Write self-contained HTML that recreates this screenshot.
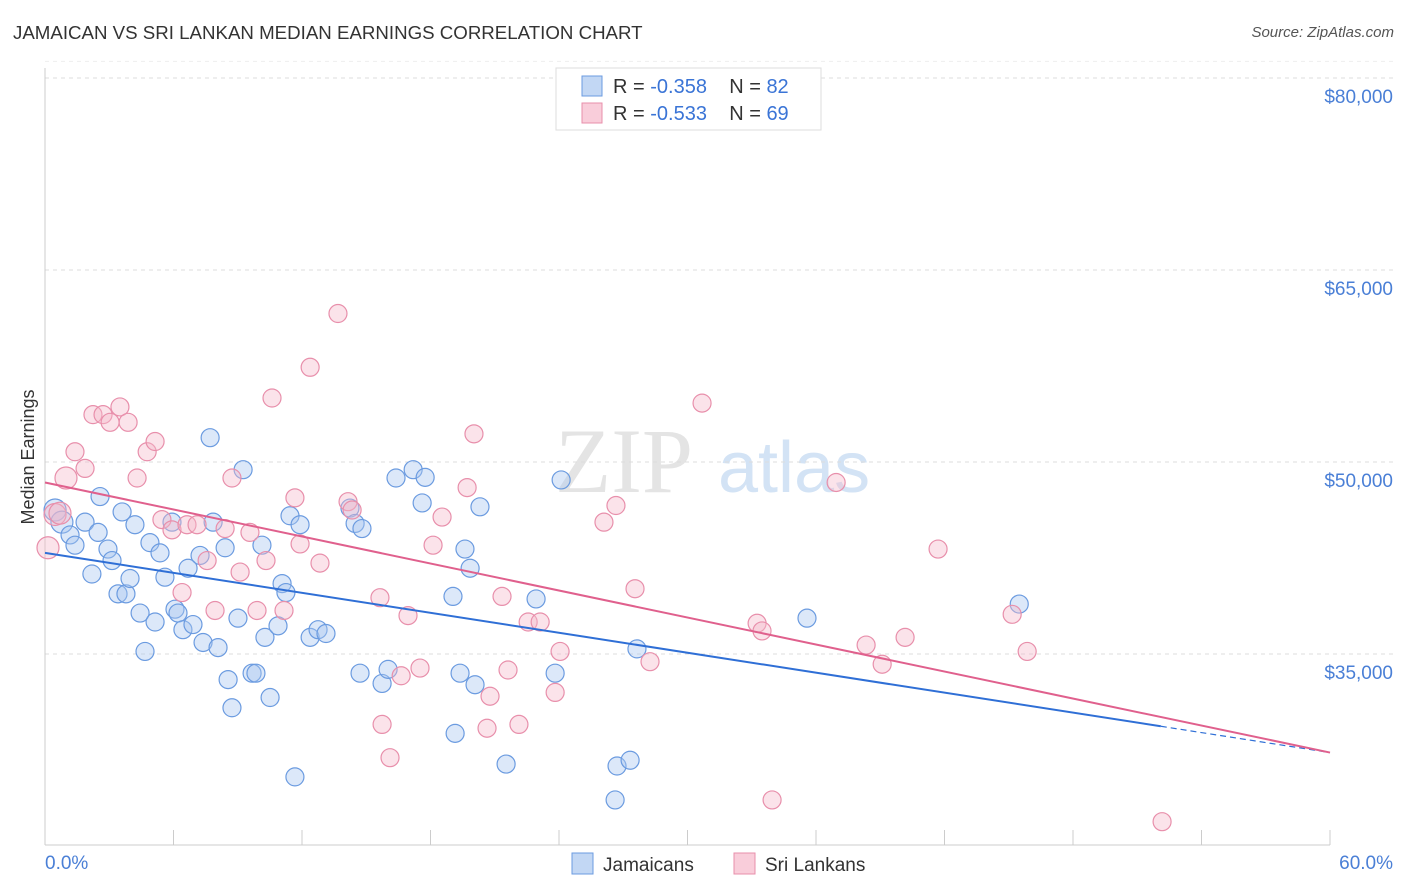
<!DOCTYPE html>
<html><head><meta charset="utf-8"><style>
body{margin:0;background:#fff;font-family:"Liberation Sans",sans-serif;}
#wrap{position:relative;width:1406px;height:892px;overflow:hidden;}
.t{position:absolute;white-space:nowrap;}
</style></head><body>
<div id="wrap">
<div class="t" style="left:13px;top:22px;font-size:18.7px;color:#333;">JAMAICAN VS SRI LANKAN MEDIAN EARNINGS CORRELATION CHART</div>
<div class="t" style="right:12px;top:24px;font-size:15px;color:#555;font-style:italic;">Source: ZipAtlas.com</div>
<svg id="svg" width="1406" height="892" style="position:absolute;left:0;top:0"></svg>
</div>
<script>
const blueX=[0.47,0.79,1.17,1.40,1.87,2.19,2.48,2.57,2.94,3.13,3.41,3.60,3.78,3.97,4.20,4.44,4.67,4.90,5.14,5.37,5.60,5.93,6.07,6.21,6.44,6.68,6.91,7.24,7.38,7.71,7.85,8.08,8.41,8.55,8.73,9.01,9.25,9.67,9.85,10.13,10.27,10.51,10.88,11.07,11.25,11.44,11.67,11.91,12.38,12.75,13.12,14.24,14.48,14.80,14.71,15.74,16.02,16.39,17.19,17.61,17.75,19.15,19.05,19.38,19.61,19.85,20.08,20.31,21.53,22.93,23.82,24.10,26.62,26.71,27.32,27.64,35.58,45.49];
const blueY=[46.25,45.3,44.3,43.5,45.3,41.25,44.5,47.3,43.2,42.3,39.7,46.1,39.7,40.9,45.1,38.2,35.2,43.7,37.5,42.9,41.0,45.3,38.5,38.2,36.9,41.7,37.3,42.7,35.9,51.9,45.3,35.5,43.3,33.0,30.8,37.8,49.4,33.5,33.5,43.5,36.3,31.6,37.2,40.5,39.8,45.8,25.4,45.1,36.3,36.9,36.6,46.4,45.2,44.8,33.5,32.7,33.8,48.75,49.4,46.8,48.8,28.8,39.5,33.5,43.2,41.7,32.6,46.5,26.4,39.3,33.5,48.6,23.6,26.25,26.7,35.4,37.8,38.9];
const pinkX=[0.14,0.47,0.70,1.40,1.87,0.98,2.24,2.71,3.04,3.50,3.88,4.30,4.77,5.14,5.46,5.93,6.40,6.63,7.10,7.57,7.94,8.41,8.73,9.11,9.57,9.90,10.32,10.60,11.16,11.67,11.91,12.38,12.84,13.68,14.15,14.34,15.64,15.74,16.11,16.63,16.95,17.51,18.12,18.54,19.71,20.03,20.78,21.34,21.62,20.64,22.13,22.56,23.12,23.82,24.05,26.10,26.66,27.55,28.25,30.68,33.25,33.48,33.95,36.94,38.34,39.09,40.16,41.70,45.16,45.86,52.16];
const pinkY=[43.3,45.9,46.0,50.8,49.5,48.75,53.7,53.7,53.1,54.3,53.1,48.75,50.8,51.6,45.5,44.7,39.8,45.1,45.1,42.3,38.4,44.8,48.75,41.4,44.5,38.4,42.3,55.0,38.4,47.2,43.6,57.4,42.1,61.6,46.9,46.25,39.4,29.5,26.9,33.3,38.0,33.9,43.5,45.7,48.0,52.2,31.7,39.5,33.75,29.2,29.5,37.5,37.5,32.0,35.2,45.3,46.6,40.1,34.4,54.6,37.4,36.8,23.6,48.4,35.7,34.2,36.3,43.2,38.1,35.2,21.9];
const yTicks=[35,50,65,80];
const yTickLabels=["$35,000","$50,000","$65,000","$80,000"];
const blueTrend=[42.9,27.3]; const blueSolidEnd=52.1;
const pinkTrend=[48.4,27.3];

const NS="http://www.w3.org/2000/svg", svg=document.getElementById('svg');
const X=v=>45+v/60*1285, Y=v=>78+(80-v)*12.8;
function mk(t,a,p){const e=document.createElementNS(NS,t);for(const k in a)e.setAttribute(k,a[k]);(p||svg).appendChild(e);return e;}
let w=mk('text',{x:555,y:492,'font-size':92,'font-family':'Liberation Serif',fill:'#e4e4e4'});w.textContent='ZIP';

let w2=mk('text',{x:718,y:492,'font-size':72,'font-family':'Liberation Sans',fill:'#d3e3f5'});w2.textContent='atlas';

yTicks.forEach((v,i)=>{
 let l=mk('line',{x1:45,x2:1393,y1:Y(v),y2:Y(v),stroke:'#ddd','stroke-dasharray':'4,4'});
 
 let t=mk('text',{x:1393,y:Y(v)+25,'text-anchor':'end','font-size':19,fill:'#4a7fd6'});t.textContent=yTickLabels[i];
 
});
let topGrid=mk('line',{x1:45,x2:1393,y1:Y(81.3),y2:Y(81.3),stroke:'#eee','stroke-dasharray':'4,4'});

let yax=mk('line',{x1:45,x2:45,y1:68,y2:845,stroke:'#ccc'});

let ax=mk('line',{x1:45,x2:1330,y1:845,y2:845,stroke:'#ccc'});

for(let i=0;i<=10;i++){let tk=mk('line',{x1:X(i*6),x2:X(i*6),y1:830,y2:845,stroke:'#ccc'});
 }
let xl=mk('text',{x:45,y:869,'font-size':19,fill:'#4a7fd6'});xl.textContent='0.0%';

let xr=mk('text',{x:1393,y:869,'font-size':19,fill:'#4a7fd6','text-anchor':'end'});xr.textContent='60.0%';

let yt=mk('text',{x:34,y:457,'font-size':18,fill:'#333','text-anchor':'middle',transform:'rotate(-90 34 457)'});yt.textContent='Median Earnings';

function dots(xs,ys,fill,stroke,name){xs.forEach((x,i)=>{const r=(x<1)?11:9;
 let c=mk('circle',{cx:X(x),cy:Y(ys[i]),r:r,fill:fill,'fill-opacity':0.4,stroke:stroke,'stroke-width':1.2});
 });}
dots(blueX,blueY,'#a8c6f0','#6b9be0','jamaican-point');
dots(pinkX,pinkY,'#f6b8ca','#e88fab','sri-lankan-point');
const lerp=(t,x)=>t[0]+(t[1]-t[0])*x/60;
let b1=mk('line',{x1:X(0),y1:Y(lerp(blueTrend,0)),x2:X(blueSolidEnd),y2:Y(lerp(blueTrend,blueSolidEnd)),stroke:'#2f6fd6','stroke-width':2});

let b2=mk('line',{x1:X(blueSolidEnd),y1:Y(lerp(blueTrend,blueSolidEnd)),x2:X(60),y2:Y(lerp(blueTrend,60)),stroke:'#2f6fd6','stroke-width':1.2,'stroke-dasharray':'6,4'});

let p1=mk('line',{x1:X(0),y1:Y(lerp(pinkTrend,0)),x2:X(60),y2:Y(lerp(pinkTrend,60)),stroke:'#e0608d','stroke-width':2});

let lg=mk('g',{});
mk('rect',{x:556,y:68,width:265,height:62,fill:'#fff',stroke:'#ddd'},lg);
[['#a8c6f0','#6b9be0','-0.358','82',86],['#f6b8ca','#e88fab','-0.533','69',113]].forEach(r=>{
 mk('rect',{x:582,y:r[4]-10,width:20,height:20,fill:r[0],'fill-opacity':0.7,stroke:r[1]},lg);
 let t=mk('text',{x:613,y:r[4]+7,'font-size':20,fill:'#333'},lg);
 t.innerHTML='R = <tspan fill="#3a74d6">'+r[2]+'</tspan>&#160;&#160;&#160;&#160;N = <tspan fill="#3a74d6">'+r[3]+'</tspan>';
});
[['#a8c6f0','#6b9be0','Jamaicans',572,'legend-jamaicans'],['#f6b8ca','#e88fab','Sri Lankans',734,'legend-sri-lankans']].forEach(r=>{
 let g=mk('g',{});
 mk('rect',{x:r[3],y:853,width:21,height:21,fill:r[0],'fill-opacity':0.7,stroke:r[1]},g);
 let t=mk('text',{x:r[3]+31,y:871,'font-size':19,fill:'#333'},g);t.textContent=r[2];
});
</script>
</body></html>
